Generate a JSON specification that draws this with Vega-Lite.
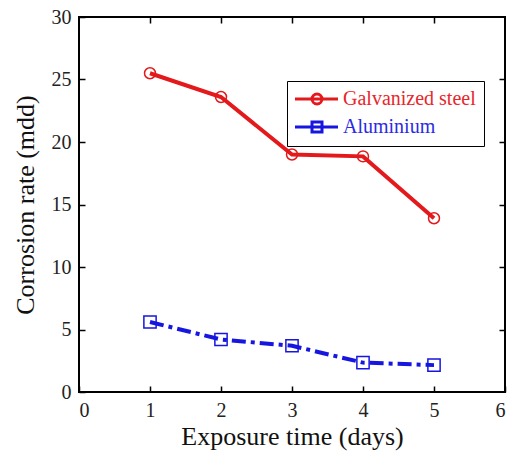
{
  "$schema": "https://vega.github.io/schema/vega-lite/v6.json",
  "width": 426,
  "height": 375,
  "autosize": "none",
  "padding": {"left": 79, "top": 17, "right": 8, "bottom": 60},
  "background": "white",
  "config": {
    "font": "Liberation Serif",
    "view": {"stroke": "black", "strokeWidth": 2},
    "axis": {
      "domain": false,
      "grid": false,
      "tickColor": "black",
      "tickWidth": 1.5,
      "tickSize": -6,
      "labelPadding": 14,
      "labelFontSize": 20,
      "labelColor": "#222",
      "labelFont": "Liberation Serif",
      "titleFont": "Liberation Serif",
      "titleFontSize": 26,
      "titleFontWeight": "normal",
      "titleColor": "#111"
    }
  },
  "data": {
    "values": [
      {"day": 1, "rate": 25.5, "series": "Galvanized steel"},
      {"day": 2, "rate": 23.6, "series": "Galvanized steel"},
      {"day": 3, "rate": 19.0, "series": "Galvanized steel"},
      {"day": 4, "rate": 18.85, "series": "Galvanized steel"},
      {"day": 5, "rate": 13.9, "series": "Galvanized steel"},
      {"day": 1, "rate": 5.6, "series": "Aluminium"},
      {"day": 2, "rate": 4.2, "series": "Aluminium"},
      {"day": 3, "rate": 3.7, "series": "Aluminium"},
      {"day": 4, "rate": 2.35, "series": "Aluminium"},
      {"day": 5, "rate": 2.15, "series": "Aluminium"}
    ]
  },
  "layer": [
    {
      "transform": [{"filter": "datum.series === 'Galvanized steel'"}],
      "mark": {"type": "line", "strokeWidth": 4},
      "encoding": {
        "x": {"field": "day", "type": "quantitative", "scale": {"domain": [0, 6], "nice": false},
              "axis": {"values": [0, 1, 2, 3, 4, 5, 6], "title": "Exposure time (days)", "titlePadding": 3}},
        "y": {"field": "rate", "type": "quantitative", "scale": {"domain": [0, 30], "nice": false},
              "axis": {"values": [0, 5, 10, 15, 20, 25, 30], "title": "Corrosion rate (mdd)", "titlePadding": 13}},
        "color": {
          "field": "series", "type": "nominal",
          "scale": {"domain": ["Galvanized steel", "Aluminium"], "range": ["#e3191c", "#1616e0"]},
          "legend": {
            "title": null,
            "orient": "none",
            "legendX": 208,
            "legendY": 64,
            "direction": "vertical",
            "strokeColor": "black",
            "fillColor": "white",
            "padding": 8,
            "symbolSize": 100,
            "symbolStrokeWidth": 3,
            "labelOffset": 28,
            "labelFontSize": 20,
            "labelFont": "Liberation Serif",
            "rowPadding": 6,
            "encode": {
              "symbols": {"update": {
                "shape": {"signal": "datum.value === 'Aluminium' ? 'M-2,0 L6.6,0 M1.4,-1 L3.4,-1 L3.4,1 L1.4,1 Z' : 'M-2,0 L6.6,0 M1.4,0 A1,1 0 1,1 3.4,0 A1,1 0 1,1 1.4,0'"},
                "fill": {"value": "transparent"}
              }},
              "labels": {"update": {"fill": {"signal": "datum.value === 'Aluminium' ? '#2a2ae6' : '#e8262b'"}}}
            }
          }
        }
      }
    },
    {
      "transform": [{"filter": "datum.series === 'Aluminium'"}],
      "mark": {"type": "line", "strokeWidth": 4, "strokeDash": [14, 5, 4, 5]},
      "encoding": {
        "x": {"field": "day", "type": "quantitative", "axis": null},
        "y": {"field": "rate", "type": "quantitative", "axis": null},
        "color": {"field": "series", "type": "nominal"}
      }
    },
    {
      "transform": [{"filter": "datum.series === 'Galvanized steel'"}],
      "mark": {"type": "point", "shape": "circle", "filled": false, "strokeWidth": 1.5, "opacity": 1, "size": 120},
      "encoding": {
        "x": {"field": "day", "type": "quantitative", "axis": null},
        "y": {"field": "rate", "type": "quantitative", "axis": null},
        "color": {"field": "series", "type": "nominal"}
      }
    },
    {
      "transform": [{"filter": "datum.series === 'Aluminium'"}],
      "mark": {"type": "point", "shape": "square", "filled": false, "strokeWidth": 1.5, "opacity": 1, "size": 150},
      "encoding": {
        "x": {"field": "day", "type": "quantitative",
              "axis": {"orient": "top", "values": [1, 2, 3, 4, 5], "labels": false, "title": null}},
        "y": {"field": "rate", "type": "quantitative",
              "axis": {"orient": "right", "values": [5, 10, 15, 20, 25], "labels": false, "title": null}},
        "color": {"field": "series", "type": "nominal"}
      }
    }
  ],
  "resolve": {"axis": {"x": "independent", "y": "independent"}}
}
